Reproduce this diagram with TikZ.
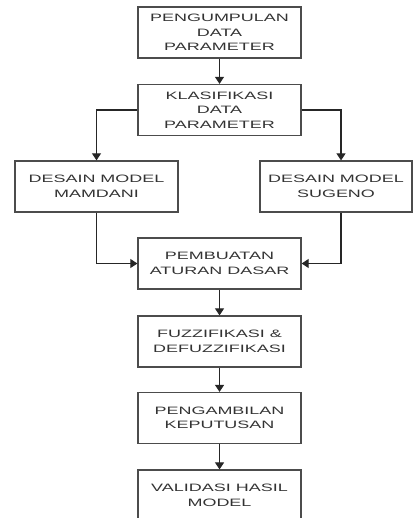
\documentclass[tikz,border=0pt]{standalone}
\usepackage{fontspec}
\usetikzlibrary{arrows.meta}
\newfontfamily\boxfont[FakeStretch=1.68]{Liberation Sans}
\begin{document}
\begin{tikzpicture}[x=1pt,y=-1pt,
  stepbox/.style={draw=black!70,line width=1.2pt,minimum width=163pt,minimum height=51pt,
    inner sep=0pt,align=center,text=black!80,font=\boxfont\fontsize{10.7}{14.5}\selectfont},
  flow/.style={draw=black!85,line width=1.1pt,-{Triangle[width=9pt,length=7pt]}}]
  \useasboundingbox (0,0) rectangle (413,518);
      \node[stepbox](kumpul) at (219.5,32.5){PENGUMPULAN\\DATA\\PARAMETER};
      \node[stepbox](klas) at (219.5,110){KLASIFIKASI\\DATA\\PARAMETER};
        \node[stepbox](mamdani) at (96.5,186.5){DESAIN MODEL\\MAMDANI};
        \node[stepbox,minimum width=152pt](sugeno) at (336,186.5){DESAIN MODEL\\SUGENO};
      \node[stepbox](aturan) at (219.5,263.5){PEMBUATAN\\ATURAN DASAR};
      \node[stepbox](fuzzy) at (219.5,341.5){FUZZIFIKASI \&\\DEFUZZIFIKASI};
      \node[stepbox](ambil) at (219.5,418){PENGAMBILAN\\KEPUTUSAN};
      \node[stepbox](valid) at (219.5,495.5){VALIDASI HASIL\\MODEL};

  \draw[flow](kumpul)--(klas);
  \draw[flow](klas.west)-|(mamdani.north);
  \draw[flow](klas.east)-|([xshift=5pt]sugeno.north);
  \draw[flow](mamdani.south)|-(aturan.west);
  \draw[flow]([xshift=5pt]sugeno.south)|-(aturan.east);
  \draw[flow](aturan)--(fuzzy);
  \draw[flow](fuzzy)--(ambil);
  \draw[flow](ambil)--(valid);

\end{tikzpicture}
\end{document}
